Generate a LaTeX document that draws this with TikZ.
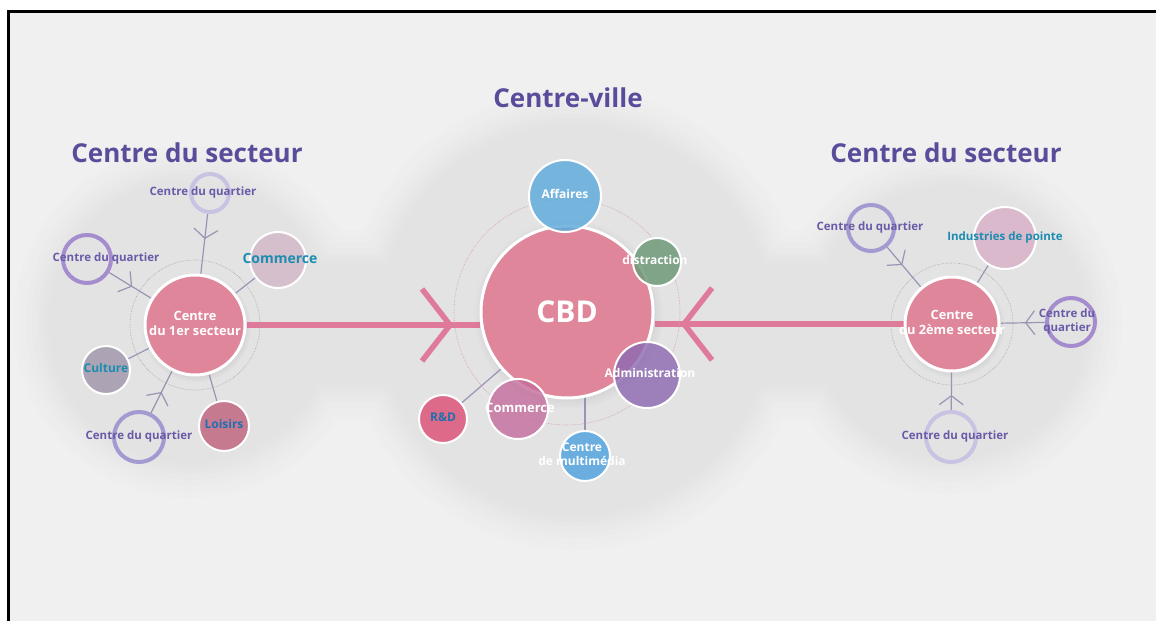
\documentclass[tikz,border=0pt]{standalone}
\usepackage{fontspec}
\setmainfont{Open Sans}
\usetikzlibrary{arrows.meta,decorations.markings,backgrounds,calc,shadows}
\definecolor{bggray}{HTML}{F0F0F0}
\definecolor{blobgray}{HTML}{E3E3E3}
\definecolor{titlepurple}{HTML}{5B4B9B}
\definecolor{labpurple}{HTML}{6A5AA8}
\definecolor{labcyan}{HTML}{1B8DB0}
\definecolor{labblue}{HTML}{2070B0}
\definecolor{hubpink}{HTML}{E0869A}
\definecolor{linepink}{HTML}{E07A9A}
\definecolor{linegray}{HTML}{9A94B4}
\definecolor{ringlight}{HTML}{CAC2E2}
\definecolor{ringdark}{HTML}{A48CCE}
\definecolor{ringmid}{HTML}{A29AD0}
\definecolor{comfill}{HTML}{D6BFCC}
\definecolor{culfill}{HTML}{ACA4B4}
\definecolor{loifill}{HTML}{C67A90}
\definecolor{afffill}{HTML}{62ACDC}
\definecolor{disfill}{HTML}{6F9A78}
\definecolor{admfill}{HTML}{8C68B0}
\definecolor{cmcfill}{HTML}{C46C9C}
\definecolor{rdfill}{HTML}{DC6A88}
\definecolor{mmfill}{HTML}{6AAEE0}
\definecolor{indfill}{HTML}{DBB9CC}
\newcommand{\spill}[2][0pt]{\makebox[0pt]{\hspace*{#1}\begin{tabular}{@{}c@{}}#2\end{tabular}}}
\tikzset{
  title/.style={text=titlepurple, font=\bfseries\fontsize{26}{30}\selectfont},
  hub/.style={circle, fill=hubpink, draw=white, line width=3pt, minimum size=#1, inner sep=0pt,
    text=white, font=\bfseries\fontsize{12.8}{15}\selectfont,
    circular drop shadow={shadow xshift=1pt, shadow yshift=-2pt, opacity=0.18}},
  sat/.style={circle, fill=#1, draw=white, line width=2pt, inner sep=0pt,
    text=white, font=\bfseries\fontsize{12}{14}\selectfont},
  quart/.style={circle, draw=#1, line width=4pt, inner sep=0pt,
    text=labpurple, font=\bfseries\fontsize{11.5}{13.5}\selectfont},
  dotring/.style={gray!70, densely dotted, line width=0.6pt},
  pinkline/.style={draw=linepink, line width=5.5pt},
  thinline/.style={draw=linegray, line width=1.2pt},
  inflow/.style={decoration={markings, mark=at position #1 with {\arrow{Straight Barb[length=9pt,width=24pt]}}},
    postaction={decorate}},
  bigflow/.style={decoration={markings, mark=at position -26pt with {\arrow{Straight Barb[length=28pt,width=72pt]}}},
    postaction={decorate}}
}
\begin{document}
\begin{tikzpicture}[x=1pt,y=-1pt]
\useasboundingbox (0,0) rectangle (1156,621);
\begin{scope}[on background layer]
\fill[white] (0,0) rectangle (1156,621);
\fill[bggray] (8,10) rectangle (1156,621);
\draw[line width=3pt] (8.5,621) -- (8.5,11) -- (1156,11);
% soft grey blob behind the three centres
\foreach \d/\p in {36/12,30/26,24/40,18/54,12/68,8/80,4/91,0/100}{
  \fill[blobgray!\p!bggray] (190,322) circle[radius={140pt+\d pt}];
  \fill[blobgray!\p!bggray] (575,320) circle[radius={194pt+\d pt}];
  \fill[blobgray!\p!bggray] (950,322) circle[radius={136pt+\d pt}];
  \fill[blobgray!\p!bggray] (190,266-\d) rectangle (950,384+\d);
}
\end{scope}

\draw (187,153) node (tsec1) [title] {Centre du secteur};
\draw (568,98) node (tville) [title] {Centre-ville};
\draw (946,153) node (tsec2) [title] {Centre du secteur};

\draw[dotring] (195,325) circle[radius=65pt];
\draw[dotring, draw=cmcfill!70] (567,312) circle[radius=113pt];
\draw[dotring] (952,324) circle[radius=61pt];

% centres
\draw (195,325) node (sec1) [hub=100pt] {\spill{Centre\\du 1er secteur}};
\draw (567,312) node (cbd) [hub=172pt, font=\bfseries\fontsize{30}{36}\selectfont] {CBD};
\draw (952,324) node (sec2) [hub=94pt] {\spill{Centre\\du 2\`eme secteur}};

% left sector
\draw (210,193) node (q1) [quart=ringlight, minimum size=38pt] {\spill[-14pt]{Centre du quartier}};
\draw (87,259) node (q2) [quart=ringdark, minimum size=48pt] {\spill[38pt]{Centre du quartier}};
\draw (139,437) node (q3) [quart=ringmid, minimum size=50pt] {\spill{Centre du quartier}};
\draw (278,260) node (com1) [sat=comfill, minimum size=56pt, text=labcyan, font=\bfseries\fontsize{14}{16}\selectfont] {\spill[4pt]{Commerce}};
\draw (106,370) node (cul) [sat=culfill, minimum size=48pt, text=labcyan] {\spill{Culture}};
\draw (224,426) node (loi) [sat=loifill, minimum size=50pt, text=labblue] {\spill{Loisirs}};

% city centre
\draw (565,196) node (aff) [sat=afffill, minimum size=72pt, fill opacity=0.85, text opacity=1] {\spill{Affaires}};
\draw (657,262) node (dis) [sat=disfill, minimum size=48pt, fill opacity=0.85, text opacity=1] {\spill[-4pt]{distraction}};
\draw (647,375) node (adm) [sat=admfill, minimum size=66pt, fill opacity=0.8, text opacity=1] {\spill[6pt]{Administration}};
\draw (518,409) node (com2) [sat=cmcfill, minimum size=60pt, fill opacity=0.8, text opacity=1, font=\bfseries\fontsize{13}{15}\selectfont] {\spill[4pt]{Commerce}};
\draw (443,419) node (rd) [sat=rdfill, minimum size=48pt, text=labblue] {\spill{R\&D}};
\draw (585,456) node (mm) [sat=mmfill, minimum size=50pt] {\spill[-6pt]{Centre\\de multim\'edia}};

% right sector
\draw (871,228) node (q4) [quart=ringmid, minimum size=46pt] {\spill[-2pt]{Centre du quartier}};
\draw (1071,322) node (q5) [quart=ringdark, minimum size=48pt] {\spill[-8pt]{Centre du\\quartier}};
\draw (951,437) node (q6) [quart=ringlight, minimum size=50pt] {\spill[8pt]{Centre du quartier}};
\draw (1005,238) node (ind) [sat=indfill, minimum size=62pt, text=labcyan, font=\bfseries\fontsize{11.5}{13.5}\selectfont] {\spill{Industries de pointe}};

\begin{scope}[on background layer]
\draw[pinkline, bigflow] (sec1) -- (sec1 -| cbd.west);
\draw[pinkline, bigflow] (sec2) -- (sec2 -| cbd.east);
\draw[thinline, inflow=0.42] (q1) -- (sec1);
\draw[thinline, inflow=0.55] (q2) -- (sec1);
\draw[thinline, inflow=0.5] (q3) -- (sec1);
\draw[thinline] (com1) -- (sec1);
\draw[thinline] (cul) -- (sec1);
\draw[thinline] (loi) -- (sec1);
\draw[thinline] (rd) -- (cbd);
\draw[thinline] (mm.north) -- (mm.north |- cbd.center);
\draw[thinline, inflow=0.45] (q4) -- (sec2);
\draw[thinline, inflow=0.45] (q5) -- (sec2);
\draw[thinline, inflow=0.4] (q6) -- (sec2);
\draw[thinline] (ind) -- (sec2);
\end{scope}
\end{tikzpicture}
\end{document}
